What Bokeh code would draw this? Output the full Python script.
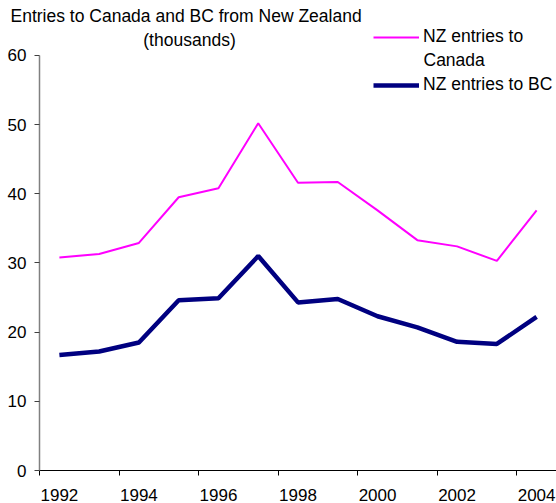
from bokeh.plotting import figure
from bokeh.models import Range1d, FixedTicker, Legend, LegendItem, Label
from bokeh.embed import file_html
from bokeh.resources import INLINE

years = [1992, 1993, 1994, 1995, 1996, 1997, 1998, 1999, 2000, 2001, 2002, 2003, 2004]
nz_canada = [30.8, 31.3, 32.9, 39.5, 40.8, 50.2, 41.6, 41.7, 37.6, 33.3, 32.4, 30.3, 37.6]
nz_bc = [16.7, 17.2, 18.5, 24.6, 24.9, 31.0, 24.3, 24.8, 22.3, 20.7, 18.6, 18.3, 22.2]
x_tick_labels = [1992, 1994, 1996, 1998, 2000, 2002, 2004]
y_ticks = [0, 10, 20, 30, 40, 50, 60]

FONT = "Liberation Sans"
Y_TOP = 64.33  # room above 60 for the legend

p = figure(width=556, height=503, output_backend="svg", toolbar_location=None,
           x_range=Range1d(years[0] - 0.5, years[-1] + 0.5), y_range=Range1d(0, Y_TOP),
           min_border_left=39, min_border_right=0, min_border_top=25, min_border_bottom=32)
p.outline_line_color = None
p.xgrid.visible = False
p.ygrid.visible = False
p.background_fill_color = "white"
p.border_fill_color = "white"

r1 = p.line(years, nz_canada, line_color="#FF00FF", line_width=2)
r2 = p.line(years, nz_bc, line_color="#000080", line_width=4.5)

# title (first line in the title panel)
p.title.text = "Entries to Canada  and BC from New Zealand"
p.title.align = "left"
p.title.offset = -29
p.title.standoff = 0
p.title.text_font = FONT
p.title.text_font_size = "17.5px"
p.title.text_font_style = "normal"
p.title.text_color = "black"

# x axis
xa = p.xaxis[0]
xa.ticker = FixedTicker(ticks=x_tick_labels,
                        minor_ticks=[y - 0.5 for y in years[::2]])
xa.major_label_overrides = {t: str(t) for t in x_tick_labels}
xa.major_tick_out = 0
xa.major_tick_in = 0
xa.minor_tick_out = 5
xa.minor_tick_in = 0
xa.minor_tick_line_color = "black"
xa.axis_line_color = "black"
xa.major_label_standoff = 13
xa.major_label_text_font = FONT
xa.major_label_text_font_size = "17px"
xa.major_label_text_color = "black"

# y axis
ya = p.yaxis[0]
ya.ticker = FixedTicker(ticks=y_ticks, minor_ticks=[])
ya.bounds = (0, 60)
ya.major_tick_out = 5
ya.major_tick_in = 0
ya.major_tick_line_color = "#404040"
ya.axis_line_color = "#808080"
ya.axis_line_width = 1.5
ya.major_label_standoff = 8
ya.major_label_text_font = FONT
ya.major_label_text_font_size = "17px"
ya.major_label_text_color = "black"

# second title line
p.add_layout(Label(x=150, y=62.2, x_units="screen", y_units="data",
                   text="(thousands)",
                   text_font=FONT, text_font_size="17.5px", text_baseline="middle",
                   text_align="center", text_color="black"))

legend = Legend(items=[LegendItem(label="NZ entries to", renderers=[r1]),
                       LegendItem(label="NZ entries to BC", renderers=[r2])],
                location=(334, 375), padding=0, margin=0, spacing=27,
                glyph_width=46, glyph_height=20, label_height=20, label_standoff=4,
                label_text_font=FONT, label_text_font_size="17.5px",
                label_text_color="black",
                border_line_color=None, background_fill_alpha=0)
p.add_layout(legend, "center")

# wrapped second line of the first legend label
p.add_layout(Label(x=384, y=59.3, x_units="screen", y_units="data",
                   text="Canada",
                   text_font=FONT, text_font_size="17.5px", text_baseline="middle",
                   text_align="left", text_color="black"))

open("out.html", "w").write(file_html(p, INLINE))
